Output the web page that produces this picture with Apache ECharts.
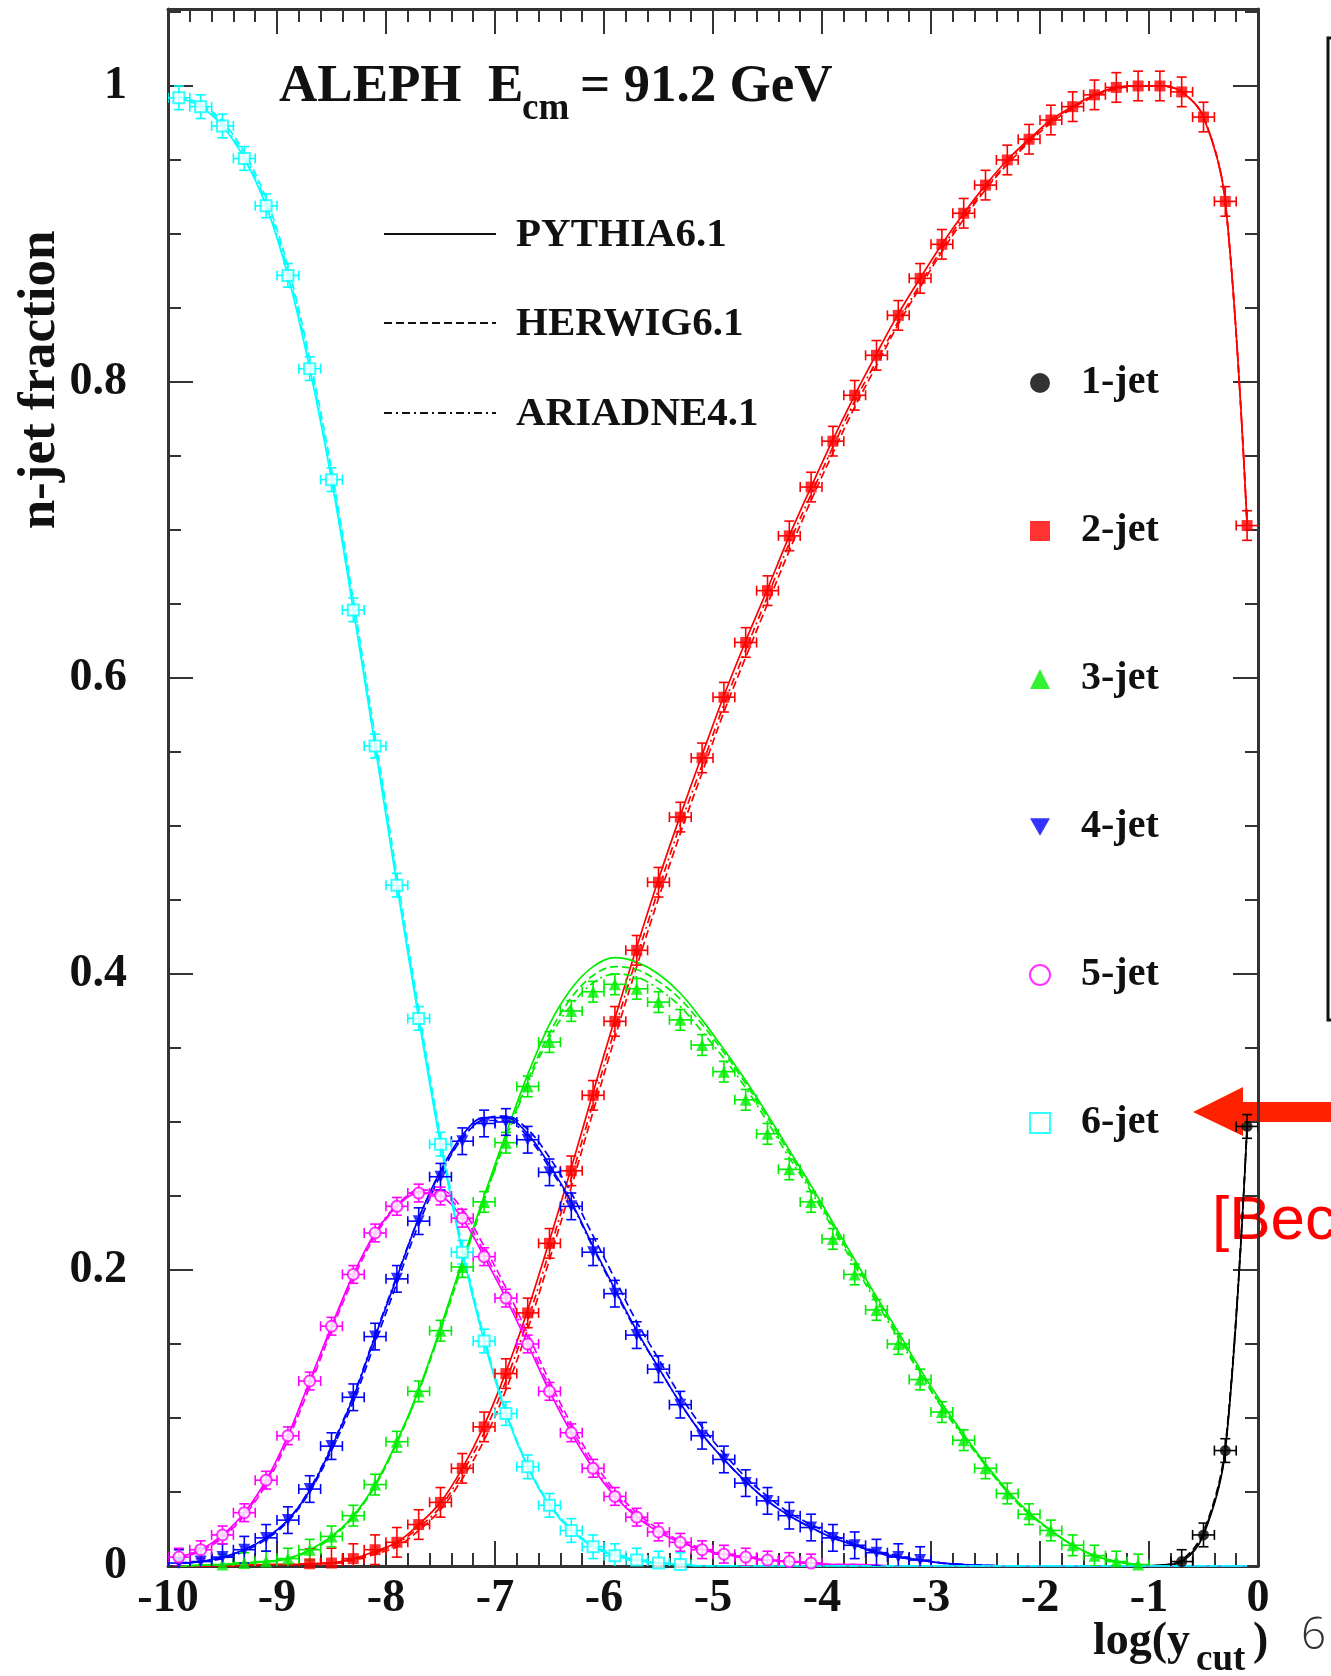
<!DOCTYPE html>
<html>
<head>
<meta charset="utf-8">
<script src="https://cdn.jsdelivr.net/npm/echarts@6/dist/echarts.min.js"></script>
<style>
  html, body { margin: 0; padding: 0; background: #fff; }
  #chart { width: 1331px; height: 1676px; }
</style>
</head>
<body>
<div id="chart"></div>
<script>
// bin centres of log(y_cut)
const logYcut = [
  -9.9, -9.7, -9.5, -9.3, -9.1, -8.9, -8.7, -8.5, -8.3, -8.1,
  -7.9, -7.7, -7.5, -7.3, -7.1, -6.9, -6.7, -6.5, -6.3, -6.1,
  -5.9, -5.7, -5.5, -5.3, -5.1, -4.9, -4.7, -4.5, -4.3, -4.1,
  -3.9, -3.7, -3.5, -3.3, -3.1, -2.9, -2.7, -2.5, -2.3, -2.1,
  -1.9, -1.7, -1.5, -1.3, -1.1, -0.9, -0.7, -0.5, -0.3, -0.1
]
const N = null

// ALEPH data points (null = no marker)
const jet1 = [
  N, N, N, N, N, N, N, N, N, N,
  N, N, N, N, N, N, N, N, N, N,
  N, N, N, N, N, N, N, N, N, N,
  N, N, N, N, N, N, N, N, N, N,
  N, N, N, N, N, N, 0.003, 0.021, 0.078, 0.297
]
const jet2 = [
  N, N, N, N, N, N, 0.0015, 0.002, 0.005, 0.011,
  0.016, 0.028, 0.043, 0.066, 0.094, 0.130, 0.171, 0.218, 0.267, 0.318,
  0.368, 0.416, 0.462, 0.506, 0.546, 0.587, 0.624, 0.659, 0.696, 0.729,
  0.760, 0.791, 0.818, 0.845, 0.870, 0.893, 0.914, 0.933, 0.950, 0.964,
  0.977, 0.986, 0.994, 0.999, 1.000, 1.000, 0.996, 0.979, 0.922, 0.703
]
const jet3 = [
  N, N, 0.001, 0.002, 0.003, 0.005, 0.011, 0.020, 0.034, 0.055,
  0.084, 0.118, 0.159, 0.202, 0.246, 0.286, 0.324, 0.354, 0.375, 0.388,
  0.393, 0.390, 0.381, 0.369, 0.352, 0.334, 0.315, 0.292, 0.268, 0.246,
  0.221, 0.197, 0.173, 0.150, 0.126, 0.104, 0.085, 0.066, 0.049, 0.035,
  0.024, 0.014, 0.007, 0.003, 0.001, N, N, N, N, N
]
const jet4 = [
  0.002, 0.003, 0.006, 0.011, 0.019, 0.031, 0.052, 0.081, 0.114, 0.155,
  0.194, 0.233, 0.263, 0.287, 0.299, 0.300, 0.288, 0.266, 0.243, 0.212,
  0.184, 0.156, 0.133, 0.109, 0.088, 0.072, 0.056, 0.044, 0.034, 0.026,
  0.019, 0.014, 0.009, 0.006, 0.004, N, N, N, N, N,
  N, N, N, N, N, N, N, N, N, N
]
const jet5 = [
  0.006, 0.011, 0.021, 0.036, 0.058, 0.088, 0.125, 0.162, 0.197, 0.225,
  0.243, 0.252, 0.250, 0.235, 0.209, 0.181, 0.150, 0.118, 0.090, 0.066,
  0.047, 0.033, 0.023, 0.016, 0.011, 0.008, 0.006, 0.004, 0.003, 0.002,
  N, N, N, N, N, N, N, N, N, N,
  N, N, N, N, N, N, N, N, N, N
]
const jet6 = [
  0.992, 0.986, 0.973, 0.951, 0.919, 0.872, 0.809, 0.734, 0.646, 0.554,
  0.460, 0.370, 0.285, 0.212, 0.152, 0.103, 0.067, 0.041, 0.024, 0.013,
  0.007, 0.004, 0.002, 0.001, N, N, N, N, N, N,
  N, N, N, N, N, N, N, N, N, N,
  N, N, N, N, N, N, N, N, N, N
]
// vertical error (half size) per multiplicity, bin half width
const jetErr = [0.008, 0.010, 0.007, 0.009, 0.006, 0.008]
const binHalf = 0.1

// Monte Carlo curves
const pythia1 = [
  N, N, N, N, N, N, N, N, N, N,
  N, N, N, N, N, N, N, N, N, N,
  N, N, N, N, N, N, N, N, N, N,
  N, N, N, N, N, N, N, N, N, N,
  N, N, N, N, 0, 0.0005, 0.003, 0.021, 0.078, 0.297
]
const herwig1 = [
  N, N, N, N, N, N, N, N, N, N,
  N, N, N, N, N, N, N, N, N, N,
  N, N, N, N, N, N, N, N, N, N,
  N, N, N, N, N, N, N, N, N, N,
  N, N, N, N, 0, 0.0005, 0.004, 0.023, 0.081, 0.297
]
const ariadne1 = [
  N, N, N, N, N, N, N, N, N, N,
  N, N, N, N, N, N, N, N, N, N,
  N, N, N, N, N, N, N, N, N, N,
  N, N, N, N, N, N, N, N, N, N,
  N, N, N, N, 0, 0.0005, 0.003, 0.022, 0.079, 0.297
]
const pythia2 = [
  0, 0, 0, 0.0005, 0.001, 0.001, 0.0015, 0.002, 0.005, 0.010,
  0.016, 0.028, 0.043, 0.066, 0.095, 0.131, 0.173, 0.220, 0.269, 0.320,
  0.370, 0.418, 0.464, 0.507, 0.548, 0.588, 0.625, 0.660, 0.696, 0.729,
  0.761, 0.791, 0.819, 0.846, 0.870, 0.893, 0.914, 0.933, 0.950, 0.964,
  0.977, 0.986, 0.994, 0.999, 1.000, 1.000, 0.996, 0.979, 0.922, 0.703
]
const herwig2 = [
  0, 0, 0, 0.0005, 0.001, 0.001, 0.0015, 0.002, 0.004, 0.008,
  0.013, 0.024, 0.038, 0.059, 0.085, 0.119, 0.160, 0.207, 0.256, 0.307,
  0.357, 0.405, 0.451, 0.495, 0.536, 0.577, 0.614, 0.650, 0.686, 0.720,
  0.752, 0.783, 0.811, 0.839, 0.864, 0.888, 0.910, 0.930, 0.947, 0.962,
  0.975, 0.985, 0.993, 0.998, 1.000, 1.000, 0.996, 0.979, 0.922, 0.703
]
const ariadne2 = [
  0, 0, 0, 0.0005, 0.001, 0.001, 0.0015, 0.002, 0.005, 0.009,
  0.015, 0.026, 0.040, 0.063, 0.090, 0.125, 0.166, 0.213, 0.262, 0.313,
  0.363, 0.411, 0.457, 0.501, 0.541, 0.582, 0.619, 0.655, 0.691, 0.724,
  0.756, 0.787, 0.814, 0.841, 0.866, 0.890, 0.912, 0.931, 0.948, 0.963,
  0.976, 0.986, 0.994, 0.999, 1.000, 1.000, 0.996, 0.979, 0.922, 0.703
]
const pythia3 = [
  0, 0.0005, 0.001, 0.002, 0.003, 0.005, 0.011, 0.020, 0.034, 0.055,
  0.084, 0.119, 0.161, 0.206, 0.250, 0.292, 0.332, 0.366, 0.390, 0.405,
  0.411, 0.408, 0.400, 0.387, 0.369, 0.349, 0.328, 0.305, 0.281, 0.257,
  0.232, 0.207, 0.182, 0.158, 0.133, 0.110, 0.089, 0.069, 0.051, 0.036,
  0.024, 0.014, 0.007, 0.003, 0.001, 0, 0, 0, 0, 0
]
const herwig3 = [
  0, 0.0005, 0.001, 0.002, 0.003, 0.005, 0.010, 0.019, 0.033, 0.054,
  0.083, 0.118, 0.159, 0.203, 0.248, 0.289, 0.328, 0.360, 0.384, 0.399,
  0.405, 0.403, 0.395, 0.383, 0.366, 0.347, 0.326, 0.303, 0.279, 0.255,
  0.230, 0.205, 0.180, 0.156, 0.131, 0.108, 0.088, 0.068, 0.050, 0.035,
  0.024, 0.014, 0.007, 0.003, 0.001, 0, 0, 0, 0, 0
]
const ariadne3 = [
  0, 0.0005, 0.001, 0.002, 0.003, 0.005, 0.011, 0.020, 0.034, 0.055,
  0.084, 0.118, 0.160, 0.204, 0.247, 0.288, 0.326, 0.357, 0.379, 0.394,
  0.400, 0.398, 0.390, 0.378, 0.361, 0.343, 0.323, 0.300, 0.276, 0.253,
  0.228, 0.203, 0.178, 0.154, 0.130, 0.107, 0.087, 0.068, 0.050, 0.035,
  0.024, 0.014, 0.007, 0.003, 0.001, 0, 0, 0, 0, 0
]
const pythia4 = [
  0.002, 0.003, 0.006, 0.011, 0.019, 0.031, 0.051, 0.080, 0.114, 0.155,
  0.195, 0.235, 0.267, 0.291, 0.303, 0.303, 0.292, 0.271, 0.246, 0.216,
  0.187, 0.159, 0.134, 0.110, 0.089, 0.072, 0.057, 0.044, 0.034, 0.026,
  0.019, 0.014, 0.009, 0.006, 0.004, 0.002, 0.001, 0.0005, 0, 0,
  0, 0, 0, 0, 0, 0, 0, 0, 0, 0
]
const herwig4 = [
  0.002, 0.003, 0.005, 0.010, 0.018, 0.030, 0.050, 0.078, 0.111, 0.151,
  0.191, 0.231, 0.264, 0.289, 0.302, 0.304, 0.295, 0.276, 0.252, 0.223,
  0.194, 0.165, 0.140, 0.115, 0.094, 0.076, 0.060, 0.047, 0.036, 0.028,
  0.021, 0.015, 0.010, 0.007, 0.004, 0.002, 0.001, 0.0005, 0, 0,
  0, 0, 0, 0, 0, 0, 0, 0, 0, 0
]
const ariadne4 = [
  0.002, 0.003, 0.006, 0.011, 0.019, 0.031, 0.052, 0.081, 0.115, 0.156,
  0.196, 0.235, 0.266, 0.289, 0.301, 0.301, 0.290, 0.269, 0.245, 0.215,
  0.186, 0.158, 0.134, 0.110, 0.089, 0.072, 0.057, 0.044, 0.034, 0.026,
  0.019, 0.014, 0.009, 0.006, 0.004, 0.002, 0.001, 0.0005, 0, 0,
  0, 0, 0, 0, 0, 0, 0, 0, 0, 0
]
const pythia5 = [
  0.006, 0.011, 0.021, 0.036, 0.058, 0.088, 0.125, 0.162, 0.197, 0.225,
  0.243, 0.252, 0.250, 0.235, 0.209, 0.181, 0.150, 0.118, 0.090, 0.066,
  0.047, 0.033, 0.023, 0.016, 0.011, 0.008, 0.006, 0.004, 0.003, 0.002,
  0.001, 0.001, 0.0005, 0, 0, 0, 0, 0, 0, 0,
  0, 0, 0, 0, 0, 0, 0, 0, 0, 0
]
const herwig5 = [
  0.005, 0.010, 0.019, 0.034, 0.055, 0.085, 0.121, 0.159, 0.194, 0.223,
  0.243, 0.254, 0.254, 0.241, 0.216, 0.188, 0.157, 0.125, 0.096, 0.071,
  0.051, 0.036, 0.025, 0.017, 0.012, 0.008, 0.006, 0.004, 0.003, 0.002,
  0.001, 0.001, 0.0005, 0, 0, 0, 0, 0, 0, 0,
  0, 0, 0, 0, 0, 0, 0, 0, 0, 0
]
const ariadne5 = [
  0.006, 0.011, 0.020, 0.035, 0.057, 0.087, 0.124, 0.161, 0.196, 0.225,
  0.244, 0.253, 0.252, 0.238, 0.212, 0.184, 0.153, 0.121, 0.093, 0.068,
  0.049, 0.034, 0.024, 0.016, 0.011, 0.008, 0.006, 0.004, 0.003, 0.002,
  0.001, 0.001, 0.0005, 0, 0, 0, 0, 0, 0, 0,
  0, 0, 0, 0, 0, 0, 0, 0, 0, 0
]
const pythia6 = [
  0.992, 0.986, 0.973, 0.951, 0.919, 0.872, 0.809, 0.734, 0.646, 0.554,
  0.460, 0.370, 0.285, 0.212, 0.152, 0.103, 0.067, 0.041, 0.024, 0.013,
  0.007, 0.004, 0.002, 0.001, 0, 0, 0, 0, 0, 0,
  0, 0, 0, 0, 0, 0, 0, 0, 0, 0,
  0, 0, 0, 0, 0, 0, 0, 0, 0, 0
]
const herwig6 = [
  0.993, 0.988, 0.976, 0.955, 0.924, 0.878, 0.816, 0.741, 0.653, 0.561,
  0.467, 0.376, 0.290, 0.216, 0.155, 0.105, 0.068, 0.042, 0.025, 0.014,
  0.008, 0.004, 0.002, 0.001, 0, 0, 0, 0, 0, 0,
  0, 0, 0, 0, 0, 0, 0, 0, 0, 0,
  0, 0, 0, 0, 0, 0, 0, 0, 0, 0
]
const ariadne6 = [
  0.992, 0.987, 0.974, 0.953, 0.921, 0.875, 0.812, 0.737, 0.649, 0.557,
  0.463, 0.372, 0.287, 0.213, 0.153, 0.104, 0.067, 0.041, 0.024, 0.013,
  0.007, 0.004, 0.002, 0.001, 0, 0, 0, 0, 0, 0,
  0, 0, 0, 0, 0, 0, 0, 0, 0, 0,
  0, 0, 0, 0, 0, 0, 0, 0, 0, 0
]

const serif = '"Liberation Serif", "Times New Roman", serif'
const frameColor = '#333'

const jets = [
  { name: '1-jet', color: '#000000', data: jet1, mc: [pythia1, herwig1, ariadne1], symbol: 'circle', size: 11 },
  { name: '2-jet', color: '#ff0000', data: jet2, mc: [pythia2, herwig2, ariadne2], symbol: 'rect', size: 11 },
  { name: '3-jet', color: '#00ee00', data: jet3, mc: [pythia3, herwig3, ariadne3], symbol: 'triangle', size: 12 },
  { name: '4-jet', color: '#0000ff', data: jet4, mc: [pythia4, herwig4, ariadne4], symbol: 'path://M0,0 L10,0 L5,8.66 Z', size: 12 },
  { name: '5-jet', color: '#ff00ff', data: jet5, mc: [pythia5, herwig5, ariadne5], symbol: 'emptyCircle', size: 11 },
  { name: '6-jet', color: '#00ffff', data: jet6, mc: [pythia6, herwig6, ariadne6], symbol: 'emptyRect', size: 11 }
]
const mcNames = ['PYTHIA6.1', 'HERWIG6.1', 'ARIADNE4.1']
const mcDash = ['solid', [8, 4], [8, 4, 2, 4]]

function errorBar(color, err) {
  return function(params, api) {
    const x = api.value(0)
    const y = api.value(1)
    const c = api.coord([x, y])
    const l = api.coord([x - binHalf, y])
    const r = api.coord([x + binHalf, y])
    const t = api.coord([x, y + err])
    const b = api.coord([x, y - err])
    const style = { stroke: color, lineWidth: 1.6, fill: null }
    const cap = 5
    const seg = (x1, y1, x2, y2) => ({ type: 'line', shape: { x1, y1, x2, y2 }, style })
    return {
      type: 'group',
      children: [
        seg(l[0], c[1], r[0], c[1]),
        seg(l[0], c[1] - cap, l[0], c[1] + cap),
        seg(r[0], c[1] - cap, r[0], c[1] + cap),
        seg(c[0], t[1], c[0], b[1]),
        seg(c[0] - cap, t[1], c[0] + cap, t[1]),
        seg(c[0] - cap, b[1], c[0] + cap, b[1])
      ]
    }
  }
}

const series = []
// MC lines first, then error bars, then markers
jets.forEach((j) => {
  j.mc.forEach((arr, k) => {
    series.push({
      name: mcNames[k] + ' ' + j.name,
      type: 'line',
      data: logYcut.map((x, i) => [x, arr[i]]),
      smooth: 0.35,
      symbol: 'none',
      silent: true,
      z: 2,
      lineStyle: { color: j.color, width: 1.7, type: mcDash[k] }
    })
  })
})
jets.forEach((j, n) => {
  const pts = logYcut.map((x, i) => [x, j.data[i]]).filter(p => p[1] !== null)
  series.push({
    name: j.name + ' err',
    type: 'custom',
    renderItem: errorBar(j.color, jetErr[n]),
    data: pts,
    encode: { x: 0, y: 1 },
    silent: true,
    clip: true,
    z: 3
  })
  series.push({
    name: j.name,
    type: 'scatter',
    data: pts,
    symbol: j.symbol,
    symbolSize: j.size,
    silent: true,
    z: 4,
    itemStyle: j.symbol.indexOf('empty') === 0
      ? { color: j.color, borderColor: j.color, borderWidth: 1.8 }
      : { color: j.color }
  })
})

function xAxis(pos, label) {
  return {
    type: 'value', position: pos, min: -10, max: 0, interval: 1,
    axisLine: { show: true, onZero: false, lineStyle: { color: frameColor, width: 3 } },
    axisTick: { show: true, inside: true, length: 25, lineStyle: { color: frameColor, width: 2 } },
    minorTick: { show: true, splitNumber: 5, length: 13, lineStyle: { color: frameColor, width: 2 } },
    axisLabel: {
      show: label, margin: 33, verticalAlign: 'middle', showMinLabel: true, showMaxLabel: true,
      fontFamily: serif, fontWeight: 'bold', fontSize: 46, color: '#111'
    },
    splitLine: { show: false }
  }
}
function yAxis(pos, label) {
  return {
    type: 'value', position: pos, min: 0, max: 1.052, interval: 0.2,
    axisLine: { show: true, onZero: false, lineStyle: { color: frameColor, width: 3 } },
    axisTick: { show: true, inside: true, length: 25, lineStyle: { color: frameColor, width: 2 } },
    minorTick: { show: true, splitNumber: 4, length: 13, lineStyle: { color: frameColor, width: 2 } },
    axisLabel: {
      show: label, margin: 41, showMaxLabel: false,
      fontFamily: serif, fontWeight: 'bold', fontSize: 46, color: '#111',
      formatter: v => String(Math.round(v * 10) / 10)
    },
    splitLine: { show: false }
  }
}

const txt = (x, y, text, font, color, extra) => Object.assign({
  type: 'text', x, y, silent: true,
  style: { text, font, fill: color || '#111', align: 'left', verticalAlign: 'middle' }
}, extra || {})
const mcLegendY = [234, 323, 413]

const graphic = [
  // title
  txt(279, 87, 'ALEPH  E', 'bold 53px ' + serif),
  txt(522, 109, 'cm', 'bold 37px ' + serif),
  txt(580, 87, '= 91.2 GeV', 'bold 53px ' + serif),
  // axis names
  txt(40, 380, 'n-jet fraction', '', '#111',
    { rotation: Math.PI / 2, style: { text: 'n-jet fraction', font: 'bold 53px ' + serif, fill: '#111', align: 'center', verticalAlign: 'middle' } }),
  txt(1093, 1642, 'log(y', 'bold 46px ' + serif),
  txt(1196, 1660, 'cut', 'bold 37px ' + serif),
  txt(1253, 1642, ')', 'bold 46px ' + serif),
  // slide leftovers on the right
  { type: 'rect', silent: true, shape: { x: 1328, y: 38, width: 30, height: 982 }, style: { fill: null, stroke: '#111', lineWidth: 3 } },
  { type: 'polygon', silent: true, shape: { points: [[1193, 1112], [1243, 1087], [1243, 1102], [1331, 1102], [1331, 1122], [1243, 1122], [1243, 1136]] }, style: { fill: '#ff2200' } },
  txt(1212, 1222, '[Bec', 'normal 62px "Liberation Sans", Arial, sans-serif', '#ff0000'),
  txt(1301, 1636, '6', '300 44px "Open Sans", Lato, sans-serif', '#333')
]
mcNames.forEach((nm, k) => {
  graphic.push({
    type: 'line', silent: true,
    shape: { x1: 384, y1: mcLegendY[k], x2: 496, y2: mcLegendY[k] },
    style: { stroke: '#111', lineWidth: 2, lineDash: mcDash[k] === 'solid' ? null : mcDash[k] }
  })
  graphic.push(txt(516, mcLegendY[k] + 1, nm, 'bold 41px ' + serif))
})

const chart = echarts.init(document.getElementById('chart'), null, { renderer: 'canvas' })
chart.setOption({
  animation: false,
  backgroundColor: '#fff',
  grid: { left: 168, right: 73, top: 9, bottom: 110 },
  xAxis: [xAxis('bottom', true), xAxis('top', false)],
  yAxis: [yAxis('left', true), yAxis('right', false)],
  legend: {
    orient: 'vertical', left: 1029, top: 363, padding: 0,
    itemWidth: 20, itemHeight: 20, itemGap: 108, selectedMode: false,
    data: jets.map(j => j.name),
    textStyle: { fontFamily: serif, fontWeight: 'bold', fontSize: 40, color: '#111', lineHeight: 40, padding: [0, 0, 0, 26] }
  },
  graphic,
  series
})
</script>
</body>
</html>
